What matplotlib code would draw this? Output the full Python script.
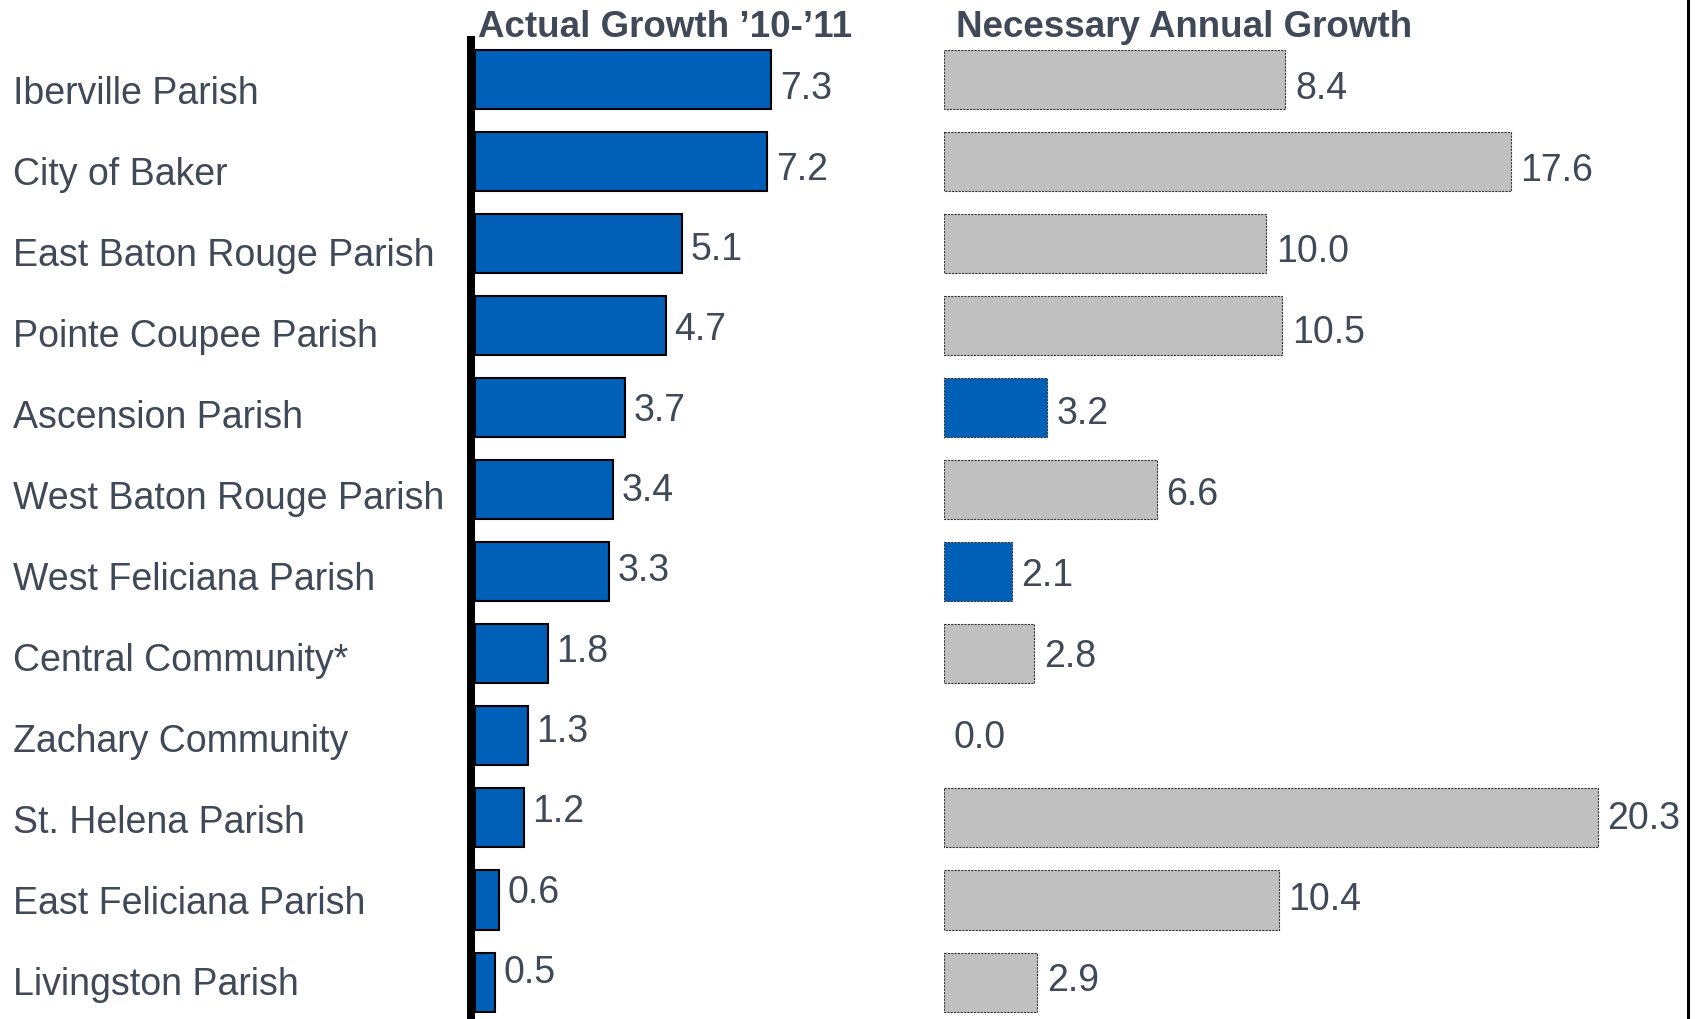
import matplotlib
matplotlib.use("Agg")
import matplotlib.pyplot as plt
from matplotlib.lines import Line2D
import numpy as np

plt.rcParams['font.family'] = ['Liberation Sans', 'DejaVu Sans']

# data
areas = ['Iberville Parish', 'City of Baker', 'East Baton Rouge Parish',
         'Pointe Coupee Parish', 'Ascension Parish', 'West Baton Rouge Parish',
         'West Feliciana Parish', 'Central Community*', 'Zachary Community',
         'St. Helena Parish', 'East Feliciana Parish', 'Livingston Parish']
actual = [7.3, 7.2, 5.1, 4.7, 3.7, 3.4, 3.3, 1.8, 1.3, 1.2, 0.6, 0.5]
necessary = [8.4, 17.6, 10.0, 10.5, 3.2, 6.6, 2.1, 2.8, 0.0, 20.3, 10.4, 2.9]
# in the source the Iberville bar is drawn longer than its 8.4 label
necessary_drawn = [10.6, 17.6, 10.0, 10.5, 3.2, 6.6, 2.1, 2.8, 0.0, 20.3, 10.4, 2.9]
titles = ["Actual Growth \u201910-\u201911", "Necessary Annual Growth"]

blue = '#005fb7'
grey = '#c0c0c0'
txt = '#404958'

W, H = 1695, 1020
fig = plt.figure(figsize=(W / 100, H / 100), dpi=100)

pitch = 82.05      # px between bar centres
first = 80.5       # px from top to first bar centre
ytop = -first / pitch
ybot = (H - first) / pitch
y = np.arange(len(areas))
n = len(areas) - 1


def px_axes(x0, x1):
    return fig.add_axes([x0 / W, 0, (x1 - x0) / W, 1])


def drift(a, b):
    # small vertical offsets (in points) that change down the list
    return [-(a + (b - a) * i / n) * 0.72 for i in range(n + 1)]


# left panel
axl = px_axes(475, 900)
axl.set_xlim(0, 425 / 40.6)
axl.set_ylim(ybot, ytop)
axl.barh(y, actual, height=0.72, color=blue, edgecolor='black', linewidth=1.5)
offs = drift(9, -10)
for i, v in enumerate(actual):
    axl.annotate(f'{v:.1f}', (v, i), xytext=(6, offs[i]), textcoords='offset points',
                 ha='left', va='center', fontsize=27, color=txt)
axl.axis('off')

# right panel
axr = px_axes(944, 1688)
axr.set_xlim(0, 744 / 32.2)
axr.set_ylim(ybot, ytop)
cols = [blue if a >= nv else grey for a, nv in zip(actual, necessary)]
edges = ['none' if v == 0 else '#333333' for v in necessary_drawn]
axr.barh(y, necessary_drawn, height=0.72, color=cols, edgecolor=edges,
         linewidth=0.8, linestyle=(0, (2, 1)))
offs = drift(9, -2)
for i, (v, d) in enumerate(zip(necessary, necessary_drawn)):
    axr.annotate(f'{v:.1f}', (d, i), xytext=(7, offs[i]), textcoords='offset points',
                 ha='left', va='center', fontsize=27, color=txt)
axr.axis('off')

# category labels
offs = drift(14, 2)
for i, name in enumerate(areas):
    axl.annotate(name, (0, i), xycoords=('figure fraction', 'data'),
                 xytext=(13 * 0.72, offs[i]), textcoords='offset points',
                 ha='left', va='center', fontsize=27, color=txt)

# panel titles
fig.text(478 / W, 1 - 37 / H, titles[0], fontsize=26.5, fontweight='bold',
         color=txt, ha='left', va='baseline')
fig.text(956 / W, 1 - 37 / H, titles[1], fontsize=26.5, fontweight='bold',
         color=txt, ha='left', va='baseline')

# thick zero line and right frame line
fig.add_artist(Line2D([471 / W, 471 / W], [0, 1 - 41 / H], lw=5.8, color='black'))
fig.add_artist(Line2D([1688 / W, 1688 / W], [0, 1], lw=2.2, color='black'))

fig.savefig('out.png', dpi=100)
